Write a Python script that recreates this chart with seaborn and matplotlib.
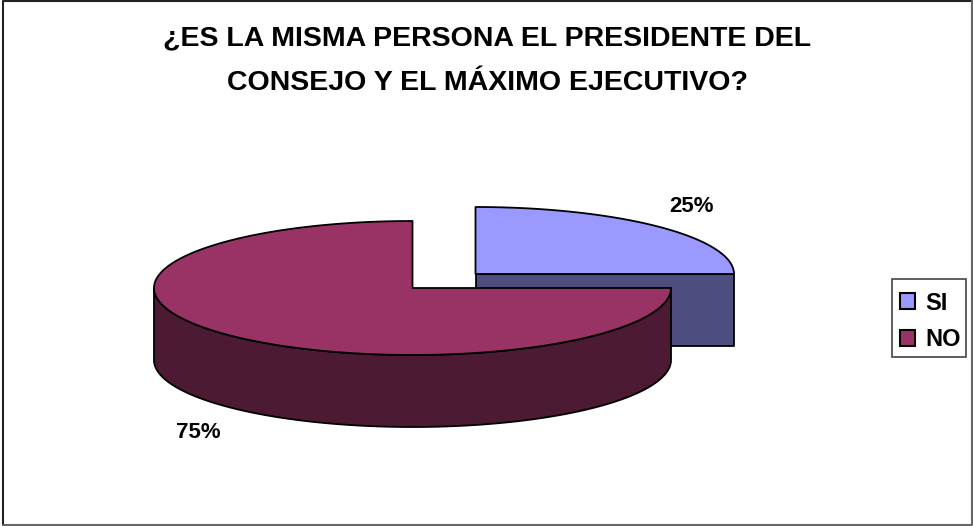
import numpy as np
import matplotlib
matplotlib.use("Agg")
import matplotlib.pyplot as plt
from matplotlib.patches import Patch, Rectangle
import seaborn as sns

categories = ["SI", "NO"]
shares = [25, 75]
top_colors = ["#9999FF", "#993366"]
side_colors = ["#4D4D80", "#4D1A33"]
title_lines = ["¿ES LA MISMA PERSONA EL PRESIDENTE DEL", "CONSEJO Y EL MÁXIMO EJECUTIVO?"]

sns.set_theme(style="white")
plt.rcParams["font.family"] = ["Liberation Sans", "DejaVu Sans"]
plt.rcParams["text.color"] = "black"

RX, RY, DEPTH = 258.5, 67, 72
EDGE = dict(edgecolor="black", linewidth=1.3, joinstyle="round")


def rim(cx, cy, a0, a1):
    """Points along the ellipse, angles clockwise from 12 o'clock."""
    t = np.radians(np.linspace(a0, a1, max(int(abs(a1 - a0)) * 3, 2)))
    return cx + RX * np.sin(t), cy - RY * np.cos(t)


def draw_slice(ax, cx, cy, a0, a1, top, side):
    # Outer wall: only the part of the rim facing the viewer (90 to 270 degrees).
    lo, hi = max(a0, 90), min(a1, 270)
    if hi > lo:
        x, y = rim(cx, cy, lo, hi)
        ax.fill(np.r_[x, x[::-1]], np.r_[y, y[::-1] + DEPTH], facecolor=side, **EDGE)
    # Cut face that runs along the 90 degree radius.
    if a1 == 90:
        x, y = rim(cx, cy, 90, 90)
        ax.fill([cx, x[-1], x[-1], cx], [cy, y[-1], y[-1] + DEPTH, cy + DEPTH],
                facecolor=side, **EDGE)
    x, y = rim(cx, cy, a0, a1)
    ax.fill(np.r_[cx, x], np.r_[cy, y], facecolor=top, **EDGE)


fig = plt.figure(figsize=(9.73, 5.26), dpi=100, facecolor="white")
ax = fig.add_axes([0, 0, 1, 1])
ax.set_xlim(0, 973)
ax.set_ylim(526, 0)
ax.axis("off")

# Chart frame
ax.plot([2.5, 2.5, 972], [525, 1, 1], color="#222222", lw=1.5, clip_on=False)
ax.plot([2.5, 972, 972], [525, 525, 1], color="#666666", lw=1.5, clip_on=False)

# Slices run clockwise from 12 o'clock; each one is pulled away from the pie centre.
centers = [(475.5, 274), (412.5, 288)]
edges = np.cumsum([0] + shares) / sum(shares) * 360
for i in range(len(shares)):
    draw_slice(ax, *centers[i], edges[i], edges[i + 1], top_colors[i], side_colors[i])

for i, line in enumerate(title_lines):
    ax.text(487.5, 38 + 45 * i, line, ha="center", va="center",
            fontsize=20.5, fontweight="bold")

ax.text(691, 207, f"{shares[0]}%", ha="center", va="center", fontsize=16, fontweight="bold")
ax.text(198, 432, f"{shares[1]}%", ha="center", va="center", fontsize=16, fontweight="bold")

# Legend box is a fixed size, so its outline is drawn separately from the entries.
ax.add_patch(Rectangle((892, 279), 74, 78, facecolor="white", edgecolor="#444444", linewidth=1.2))
handles = [Patch(facecolor=c, edgecolor="black", linewidth=1.5) for c in top_colors]
ax.legend(handles, categories, loc="upper left", bbox_to_anchor=(900, 291.5),
          bbox_transform=ax.transData, prop=dict(size=17, weight="bold"),
          frameon=False, handlelength=0.64, handleheight=0.64, handletextpad=0.42,
          labelspacing=0.59, borderpad=0, borderaxespad=0)

fig.savefig("out.png", dpi=100)
